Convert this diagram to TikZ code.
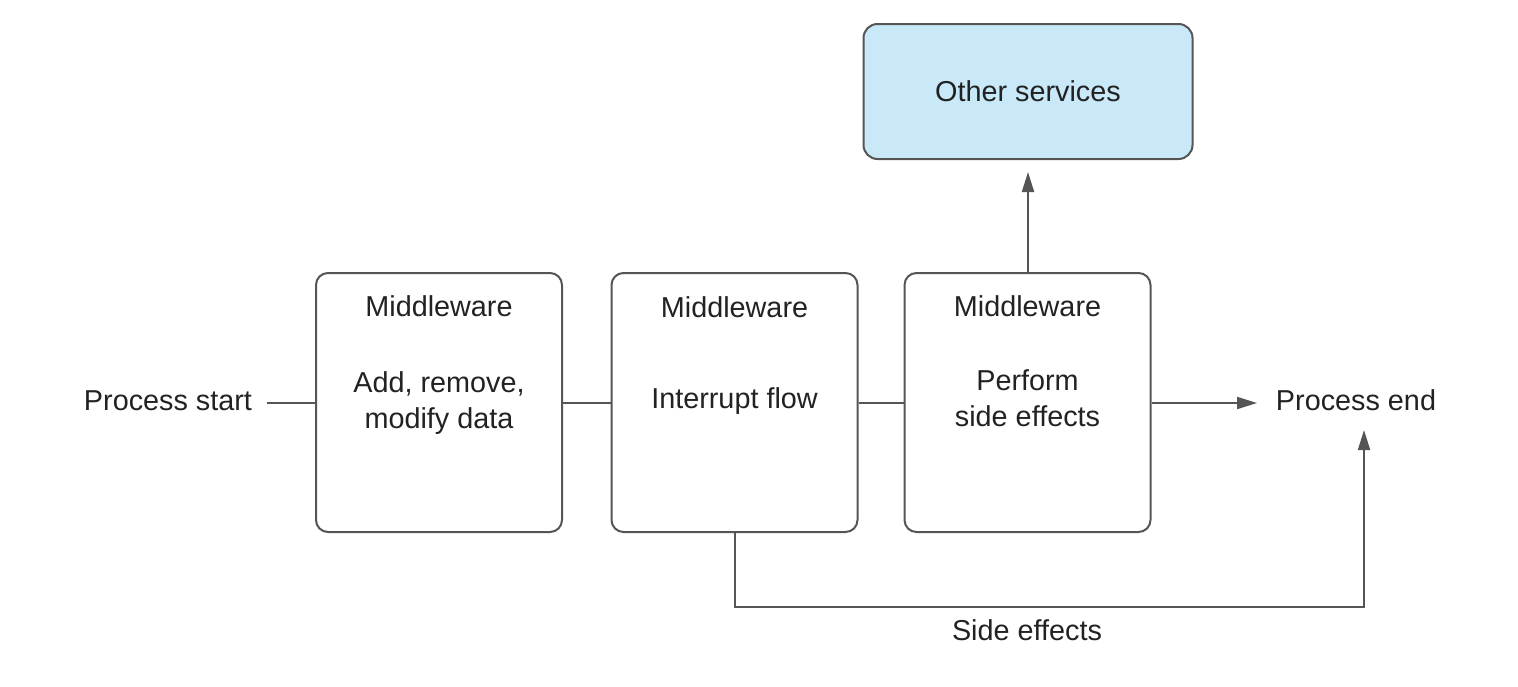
\documentclass[tikz,border=0pt]{standalone}
\usepackage{fontspec}
\setmainfont{Liberation Sans}
\usetikzlibrary{arrows.meta}
\definecolor{linec}{HTML}{555555}
\definecolor{textc}{HTML}{222222}
\definecolor{bluefill}{HTML}{C9E9F9}
\begin{document}
\begin{tikzpicture}[x=0.5pt,y=-0.5pt,
  mbox/.style={draw=linec,line width=1pt,rounded corners=6pt,minimum width=123pt,minimum height=129.5pt,inner sep=0pt},
  sbox/.style={draw=linec,line width=1pt,rounded corners=7pt,fill=bluefill,minimum width=164.5pt,minimum height=67.5pt,inner sep=0pt},
  txt/.style={text=textc,font=\fontsize{14.4}{18}\selectfont,inner sep=0pt,align=center},
  conn/.style={draw=linec,line width=1pt},
  arr/.style={conn,-{Triangle[length=10pt,width=6pt]}}]
\useasboundingbox (0,0) rectangle (1518,686);
% boxes
\node[mbox] (b1) at (439,402.5) {};
\node[mbox] (b2) at (734.5,402.5) {};
\node[mbox] (b3) at (1027.5,402.5) {};
\node[sbox] (os) at (1028,91.5) {};
% texts
\node[txt,anchor=base] (ost) at (1028,101) {Other services};
\node[txt,anchor=base] (m1) at (439,316) {Middleware};
\node[txt,anchor=base] (m2) at (734.5,317) {Middleware};
\node[txt,anchor=base] (m3) at (1027.5,316) {Middleware};
\node[txt] (d1) at (439,403) {Add, remove,\\modify data};
\node[txt,anchor=base] (d2) at (734.5,408) {Interrupt flow};
\node[txt] (d3) at (1027.5,398) {Perform\\side effects};
\node[txt,anchor=base,inner xsep=7.5pt] (ps) at (168,410) {Process start};
\node[txt,anchor=base,inner xsep=10pt] (pe) at (1356,410) {Process end};
\node[txt,anchor=base] (se) at (1027,640) {Side effects};
% connector points
\coordinate (psr) at (267,403);
\coordinate (per) at (1257,403);
\coordinate (osb) at (1028,172);
\coordinate (corner) at (1364,607);
\coordinate (peb) at (1364,430);
% connectors
\draw[conn] (psr) -- (b1.west |- psr);
\draw[conn] (b1.east |- psr) -- (b2.west |- psr);
\draw[conn] (b2.east |- psr) -- (b3.west |- psr);
\draw[arr] (b3.east |- psr) -- (per);
\draw[arr] (b3.north -| osb) -- (osb);
\draw[arr] (b2.south) |- (corner) -- (peb);
\end{tikzpicture}
\end{document}
